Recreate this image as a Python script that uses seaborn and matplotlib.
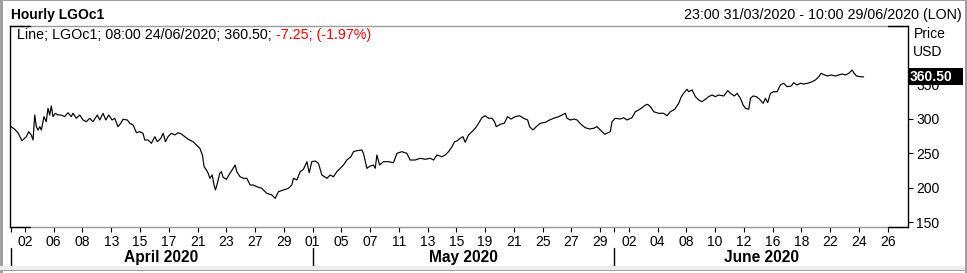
import matplotlib
matplotlib.use("Agg")
import matplotlib.pyplot as plt
import matplotlib.transforms as mtransforms
from matplotlib.patches import Rectangle
import numpy as np
import pandas as pd
import seaborn as sns

# ---------------- data ----------------
# trading-time position (trading days since 1 Apr 2020, fractional) and price (USD/t)
t = [-0.04, 0.29, 0.51, 0.79, 1.09, 1.26, 1.44, 1.56, 1.68, 1.79, 1.91, 2.03, 2.14, 2.32, 2.48, 2.60,
     2.72, 2.83, 2.95, 3.11, 3.30, 3.53, 3.76, 3.99, 4.22, 4.34, 4.57, 4.81, 5.04, 5.27, 5.50, 5.73,
     6.03, 6.20, 6.43, 6.62, 6.83, 7.06, 7.24, 7.47, 7.66, 7.82, 8.12, 8.29, 8.52, 8.75, 8.98, 9.21,
     9.33, 9.56, 9.79, 10.03, 10.21, 10.45, 10.61, 10.77, 10.95, 11.18, 11.42, 11.65, 11.88, 12.12,
     12.35, 12.69, 12.92, 13.16, 13.34, 13.46, 13.62, 13.74, 13.86, 14.02, 14.15, 14.25, 14.38, 14.55,
     14.66, 14.78, 15.01, 15.18, 15.36,
     15.62, 15.73, 15.96, 16.19, 16.43, 16.66, 16.89, 17.13, 17.47, 17.82, 18.17, 18.40, 18.63, 18.98,
     19.32, 19.56, 19.67, 19.91, 20.14, 20.37, 20.61, 20.77, 20.95, 21.18, 21.41, 21.65, 22.00, 22.23,
     22.46, 22.69, 22.92, 23.15, 23.39, 23.67, 23.85, 24.08, 24.43, 24.54, 24.78, 25.01, 25.24, 25.36,
     25.48, 25.66, 25.94, 26.28, 26.63, 26.87, 27.22, 27.56, 27.79, 28.14, 28.49, 28.84, 29.19, 29.42,
     29.65, 30.00, 30.23, 30.46, 30.70, 30.88,
     31.04, 31.27, 31.46, 31.62, 31.85, 32.09, 32.32, 32.55, 32.78, 33.01, 33.24, 33.48, 33.66, 33.78,
     34.06, 34.34, 34.56, 34.80, 35.10, 35.40, 35.68, 35.96, 36.10, 36.33, 36.56, 36.84, 37.19, 37.49,
     37.77, 38.12, 38.35, 38.58, 38.70, 38.93, 39.21, 39.40, 39.67, 39.97, 40.27, 40.55, 40.79, 41.02,
     41.32, 41.48, 41.71, 41.83, 42.06, 42.41, 42.64, 42.87, 43.22, 43.45, 43.68, 43.92, 44.15, 44.31,
     44.50, 44.73, 45.07, 45.42, 45.66, 45.89, 46.19,
     46.47, 46.63, 46.81, 47.05, 47.16, 47.40, 47.63, 47.86, 48.09, 48.32, 48.55, 48.79, 49.02, 49.25,
     49.60, 49.88, 50.06, 50.34, 50.53, 50.76, 50.95, 51.11, 51.34, 51.46, 51.64, 51.87, 52.10, 52.34,
     52.50, 52.66, 52.85, 53.08, 53.31, 53.54, 53.77, 54.01, 54.29, 54.47, 54.70, 54.93, 55.16, 55.44,
     55.75, 55.98, 56.21, 56.38, 56.61, 56.83, 57.07, 57.37, 57.60, 57.84, 58.07, 58.30, 58.53, 58.64,
     58.83, 59.11, 59.33]

price = [289.4, 284.6, 279.7, 268.1, 273.9, 281.1, 276.4, 269.1, 305.3, 288.4, 283.6, 288.4, 283.6,
         302.9, 295.6, 315.0, 305.3, 318.4, 302.9, 307.8, 305.3, 305.3, 302.9, 308.7, 302.9, 307.8,
         300.6, 305.3, 298.1, 295.6, 300.6, 295.6, 305.3, 298.1, 307.8, 298.1, 305.3, 298.1, 300.6,
         288.4, 293.3, 299.1, 298.1, 293.3, 290.9, 279.7, 281.1, 278.8, 269.1, 269.1, 264.3, 273.9,
         266.7, 271.6, 278.8, 266.7, 273.9, 278.8, 276.4, 279.7, 277.8, 273.9, 270.1, 266.7, 261.9,
         257.1, 247.4, 230.4, 225.6, 220.9, 213.6, 218.4, 203.9, 196.7, 206.4, 220.9, 223.2, 215.1,
         212.2, 218.4, 224.2,
         232.9, 223.2, 215.9, 213.6, 213.6, 203.9, 203.9, 201.4, 199.1, 191.9, 189.4, 184.6, 194.2,
         196.7, 199.1, 203.9, 213.6, 211.2, 223.2, 226.7, 237.7, 221.7, 237.7, 238.7, 235.4, 218.4,
         213.6, 218.4, 215.9, 223.2, 228.1, 232.9, 240.1, 244.9, 252.2, 253.6, 254.6, 249.8, 228.1,
         231.4, 232.9, 228.1, 247.4, 232.9, 237.7, 237.7, 236.2, 249.8, 252.2, 249.8, 240.1, 240.1,
         242.6, 241.2, 242.6, 240.1, 247.4, 244.9, 247.4, 252.2, 259.4, 266.7,
         267.7, 271.6, 273.9, 265.8, 276.4, 281.1, 286.1, 293.3, 301.4, 304.3, 300.6, 300.6, 295.6,
         288.4, 291.9, 293.3, 302.9, 299.5, 302.9, 304.3, 300.6, 298.1, 288.4, 283.6, 288.4, 293.3,
         294.8, 298.1, 300.6, 302.9, 305.3, 307.8, 300.6, 298.1, 299.5, 298.1, 291.9, 286.9, 285.1,
         286.1, 288.4, 283.6, 277.4, 278.8, 281.1, 295.6, 300.6, 299.5, 301.4, 298.1, 301.4, 310.1,
         312.6, 315.9, 319.8, 320.8, 317.4, 310.1, 307.8, 307.8, 304.3, 310.1, 313.6,
         322.3, 331.0, 336.8, 342.6, 339.1, 341.6, 331.9, 327.1, 324.6, 328.1, 331.9, 334.3, 331.9,
         334.3, 332.9, 340.6, 336.8, 332.9, 336.8, 329.5, 319.8, 315.0, 313.6, 329.5, 332.9, 331.9,
         328.1, 322.3, 329.5, 323.2, 336.8, 339.1, 339.1, 348.8, 351.3, 346.3, 347.4, 352.1, 348.8,
         351.3, 350.3, 351.3, 353.6, 356.1, 360.8, 365.8, 363.3, 361.9, 363.3, 361.9, 363.3, 364.8,
         363.3, 365.8, 370.5, 366.6, 361.9, 360.8, 360.5]

# trading calendar (weekends and Good Friday removed)
trading_days = pd.bdate_range("2020-04-01", "2020-06-29").drop(pd.Timestamp("2020-04-10"))
tick_dates = ["2020-04-02", "2020-04-06", "2020-04-08", "2020-04-13", "2020-04-15", "2020-04-17",
              "2020-04-21", "2020-04-23", "2020-04-27", "2020-04-29", "2020-05-01", "2020-05-05",
              "2020-05-07", "2020-05-11", "2020-05-13", "2020-05-15", "2020-05-19", "2020-05-21",
              "2020-05-25", "2020-05-27", "2020-05-29", "2020-06-02", "2020-06-04", "2020-06-08",
              "2020-06-10", "2020-06-12", "2020-06-16", "2020-06-18", "2020-06-22", "2020-06-24",
              "2020-06-26"]
tick_labels = ["02", "06", "08", "13", "15", "17", "21", "23", "27", "29", "01", "05", "07", "11",
               "13", "15", "19", "21", "25", "27", "29", "02", "04", "08", "10", "12", "16", "18",
               "22", "24", "26"]
month_starts = ["2020-04-01", "2020-05-01", "2020-06-01"]
month_labels = ["April 2020", "May 2020", "June 2020"]
y_ticks = [150, 200, 250, 300, 350]
last_price = 360.50
change = -7.25
change_pct = -1.97

df = pd.DataFrame({"t": t, "price": price})

# ---------------- figure ----------------
W, H = 967, 273
sns.set_theme(style="white")
plt.rcParams["font.family"] = ["Liberation Sans", "DejaVu Sans"]

fig = plt.figure(figsize=(W / 100, H / 100), dpi=100)
fig.patch.set_facecolor("white")


def fx(x):
    return x / W


def fy(y):
    return 1 - y / H


ax_l, ax_r, ax_t, ax_b = 10, 908, 25.5, 226.7
ax = fig.add_axes([fx(ax_l), fy(ax_b), fx(ax_r - ax_l), (ax_b - ax_t) / H])
ax.set_facecolor("white")

sns.lineplot(data=df, x="t", y="price", ax=ax, color="black", linewidth=0.85, legend=False)

x_end = trading_days.get_loc(pd.Timestamp("2020-06-29")) + 10 / 24
ax.set_xlim(-1 / 24, x_end)
ax.set_ylim(143.5, 435)
ax.set_xlabel("")
ax.set_ylabel("")

# spines
gray = "#9a9a9a"
for s in ["left", "right"]:
    ax.spines[s].set_color("black")
    ax.spines[s].set_linewidth(1.0)
for s in ["top", "bottom"]:
    ax.spines[s].set_color(gray)
    ax.spines[s].set_linewidth(1.0)
seg = 20 / (ax_r - ax_l)
for yy in (0, 1):
    ax.plot([0, seg], [yy, yy], transform=ax.transAxes, color="black", lw=1.0, clip_on=False, zorder=5)
    ax.plot([1 - seg, 1], [yy, yy], transform=ax.transAxes, color="black", lw=1.0, clip_on=False, zorder=5)

# x ticks
tick_pos = [trading_days.get_loc(pd.Timestamp(d)) for d in tick_dates]
minor_pos = [trading_days.get_loc(pd.Timestamp(d)) for d in month_starts]
ax.set_xticks(tick_pos)
ax.set_xticklabels(tick_labels)
ax.set_xticks([p for p in minor_pos if p not in tick_pos], minor=True)
ax.tick_params(axis="x", which="both", direction="out", length=3.5, width=0.8, color="black",
               labelsize=10, pad=2.2, bottom=True, labelcolor="black")

# y ticks on right
ax.yaxis.tick_right()
ax.set_yticks(y_ticks)
ax.set_yticklabels([str(v) for v in y_ticks])
ax.tick_params(axis="y", which="both", direction="out", length=3.5, width=0.8, color="black",
               labelsize=10, pad=2.2, right=True, left=False, labelcolor="black")
ax.grid(False)

# month separators and labels
blend = mtransforms.blended_transform_factory(ax.transData, fig.transFigure)
bounds = minor_pos + [x_end]
for i, lab in enumerate(month_labels):
    ax.plot([bounds[i], bounds[i]], [fy(248), fy(266)], transform=blend, color="black", lw=1.0,
            clip_on=False)
    ax.text((bounds[i] + bounds[i + 1]) / 2, fy(261.7), lab, transform=blend, ha="center",
            va="baseline", fontsize=11.2, fontweight="bold", color="black")

# last price box on the right axis
blend_y = mtransforms.blended_transform_factory(ax.transAxes, ax.transData)
box_w = 55 / (ax_r - ax_l)
ax.add_patch(Rectangle((1.0, last_price - 12.3), box_w, 25.0, transform=blend_y, facecolor="black",
                       edgecolor="none", clip_on=False, zorder=10))
ax.text(1.0 + 1.5 / (ax_r - ax_l), last_price - 5.6, f"{last_price:.2f}", transform=blend_y,
        ha="left", va="baseline", fontsize=10, fontweight="bold", color="white", zorder=11,
        clip_on=False)

# header texts
fig.text(fx(11), fy(19), "Hourly LGOc1", ha="left", va="baseline", fontsize=10, fontweight="bold",
         color="black")
fig.text(fx(962), fy(18.5), "23:00 31/03/2020 - 10:00 29/06/2020 (LON)", ha="right", va="baseline",
         fontsize=10.3, color="black")
fig.text(fx(914), fy(38.3), "Price", ha="left", va="baseline", fontsize=10, color="black")
fig.text(fx(913), fy(55.7), "USD", ha="left", va="baseline", fontsize=10, color="black")

t1 = fig.text(fx(17), fy(39), f"Line; LGOc1; 08:00 24/06/2020; {last_price:.2f};", ha="left",
              va="baseline", fontsize=10.3, color="black")
fig.canvas.draw()
ax.annotate(f"{change:.2f}; ({change_pct:.2f}%)", xy=(1, 0), xycoords=t1, xytext=(3.0, 0),
            textcoords="offset points", ha="left", va="bottom", fontsize=10.3, color="#ff0000",
            annotation_clip=False)

# outer frame of the panel
fig.patches.append(Rectangle((0, 0), fx(2.5), 1, transform=fig.transFigure, facecolor="#a0a0a0",
                             edgecolor="none"))
fig.patches.append(Rectangle((0, fy(271)), 1, (271 - 266) / H, transform=fig.transFigure,
                             facecolor="#ededed", edgecolor="none"))
fig.patches.append(Rectangle((0, fy(271)), 1, 1.2 / H, transform=fig.transFigure,
                             facecolor="#a0a0a0", edgecolor="none"))
fig.patches.append(Rectangle((0, fy(1.2)), 1, 1.2 / H, transform=fig.transFigure,
                             facecolor="#a0a0a0", edgecolor="none"))
fig.patches.append(Rectangle((fx(965), 0), fx(2), 1, transform=fig.transFigure,
                             facecolor="#a0a0a0", edgecolor="none"))

fig.savefig("out.png", dpi=100, facecolor="white")
